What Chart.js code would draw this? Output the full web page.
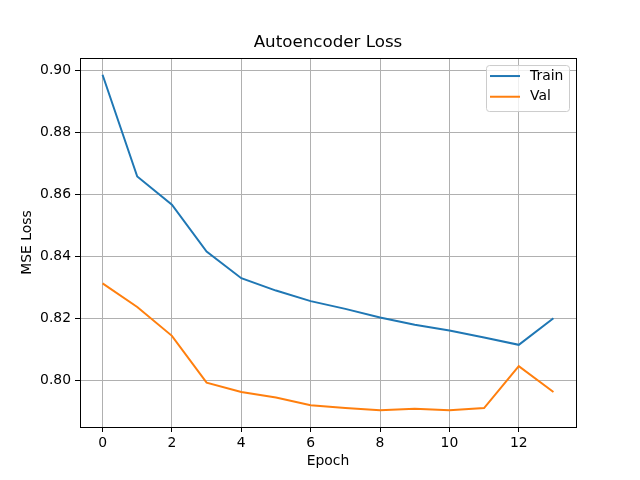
<!DOCTYPE html>
<html>
<head>
<meta charset="utf-8">
<script src="https://cdn.jsdelivr.net/npm/chart.js@4"></script>
<style>
  html, body { margin: 0; padding: 0; background: #fff; }
  canvas { display: block; }
</style>
</head>
<body>
<canvas id="loss-chart" width="640" height="480"></canvas>
<script>
const epochs    = [0, 1, 2, 3, 4, 5, 6, 7, 8, 9, 10, 11, 12, 13];
const trainLoss = [0.8985, 0.8657, 0.8566, 0.8415, 0.8329, 0.8289, 0.8255, 0.8230, 0.8202, 0.8179, 0.8160, 0.8138, 0.8114, 0.8200];
const valLoss   = [0.8312, 0.8236, 0.8143, 0.7992, 0.7962, 0.7944, 0.7919, 0.7910, 0.7903, 0.7908, 0.7903, 0.7910, 0.8045, 0.7962];
const xTicks    = [0, 2, 4, 6, 8, 10, 12];
const yTicks    = [0.80, 0.82, 0.84, 0.86, 0.88, 0.90];

const FONT = 'DejaVu Sans';
const tickFont = { family: FONT, size: 13.9 };

// Frame round the plot area (matplotlib spines)
const framePlugin = {
  id: 'frame',
  afterDatasetsDraw(chart) {
    const { ctx, chartArea: a } = chart;
    ctx.save();
    ctx.strokeStyle = '#000';
    ctx.lineWidth = 1;
    ctx.strokeRect(Math.round(a.left) + 0.5, Math.round(a.top) + 0.5,
                   Math.round(a.right - a.left), Math.round(a.bottom - a.top));
    ctx.restore();
  }
};

// Legend box in the upper right corner of the axes
const legendPlugin = {
  id: 'innerLegend',
  afterDraw(chart) {
    const { ctx, chartArea: a } = chart;
    const w = 83, h = 46;
    const x = a.right - 7 - w, y = a.top + 7;
    ctx.save();
    ctx.beginPath();
    ctx.roundRect(x + 0.5, y + 0.5, w, h, 3);
    ctx.fillStyle = 'rgba(255,255,255,0.8)';
    ctx.fill();
    ctx.strokeStyle = '#cccccc';
    ctx.lineWidth = 1;
    ctx.stroke();
    ctx.font = '13.9px "' + FONT + '"';
    ctx.textBaseline = 'middle';
    chart.data.datasets.forEach((ds, i) => {
      const ry = y + 11 + i * 20.7;
      ctx.beginPath();
      ctx.moveTo(x + 4, ry);
      ctx.lineTo(x + 34, ry);
      ctx.strokeStyle = ds.borderColor;
      ctx.lineWidth = 2;
      ctx.stroke();
      ctx.fillStyle = '#000';
      ctx.fillText(ds.label, x + 44, ry);
    });
    ctx.restore();
  }
};

new Chart(document.getElementById('loss-chart'), {
  type: 'line',
  data: {
    datasets: [
      {
        label: 'Train',
        data: epochs.map((e, i) => ({ x: e, y: trainLoss[i] })),
        borderColor: '#1f77b4',
        borderWidth: 2,
        pointRadius: 0,
        tension: 0,
      },
      {
        label: 'Val',
        data: epochs.map((e, i) => ({ x: e, y: valLoss[i] })),
        borderColor: '#ff7f0e',
        borderWidth: 2,
        pointRadius: 0,
        tension: 0,
      },
    ],
  },
  plugins: [framePlugin, legendPlugin],
  options: {
    responsive: false,
    animation: false,
    devicePixelRatio: 1,
    layout: { padding: { left: 0, right: 64, top: 0, bottom: 0 } },
    plugins: {
      legend: { display: false },
      tooltip: { enabled: false },
      title: {
        display: true,
        fullSize: false, // centre over the plot area, like matplotlib
        text: 'Autoencoder Loss',
        color: '#000',
        font: { family: FONT, size: 16.7, weight: 'normal', lineHeight: 1.2 },
        padding: { top: 33, bottom: 5 },
      },
    },
    scales: {
      x: {
        type: 'linear',
        min: -0.65,
        max: 13.65,
        afterBuildTicks: (s) => { s.ticks = xTicks.map((v) => ({ value: v })); },
        afterFit: (s) => { s.height = 53; },
        grid: { color: '#b0b0b0', lineWidth: 1, tickColor: '#000', tickLength: 5, drawTicks: true },
        border: { display: false },
        ticks: { color: '#000', font: tickFont, padding: 3, maxRotation: 0, callback: (v) => String(v) },
        title: { display: true, text: 'Epoch', color: '#000', font: tickFont, padding: { top: 4, bottom: 10 } },
      },
      y: {
        type: 'linear',
        min: 0.7849,
        max: 0.9039,
        afterBuildTicks: (s) => { s.ticks = yTicks.map((v) => ({ value: v })); },
        afterFit: (s) => { s.width = 80; },
        grid: { color: '#b0b0b0', lineWidth: 1, tickColor: '#000', tickLength: 5, drawTicks: true },
        border: { display: false },
        ticks: { color: '#000', font: tickFont, padding: 4, callback: (v) => v.toFixed(2) },
        title: { display: true, text: 'MSE Loss', color: '#000', font: tickFont, padding: { top: 19, bottom: 4 } },
      },
    },
  },
});
</script>
</body>
</html>
